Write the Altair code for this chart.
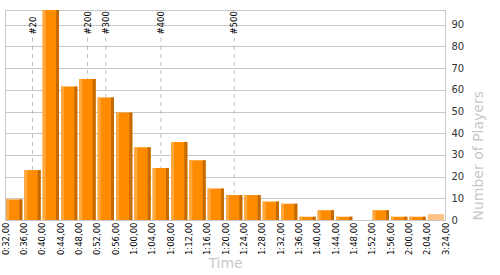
import altair as alt
import pandas as pd

# ---- data ----
bin_labels = ["0:32,00", "0:36,00", "0:40,00", "0:44,00", "0:48,00", "0:52,00",
              "0:56,00", "1:00,00", "1:04,00", "1:08,00", "1:12,00", "1:16,00",
              "1:20,00", "1:24,00", "1:28,00", "1:32,00", "1:36,00", "1:40,00",
              "1:44,00", "1:48,00", "1:52,00", "1:56,00", "2:00,00", "2:04,00",
              "3:24,00"]
players = [9.5, 23, 98, 61.5, 65, 56.5, 49.5, 33.5, 24, 36, 27.5, 14.5,
           11.5, 11.5, 8.5, 7.5, 1.5, 4.5, 1.5, 0, 4.5, 1.5, 1.5, 2.7]
kinds = ["full"] * 23 + ["partial"]

rank_labels = ["#20", "#200", "#300", "#400", "#500"]
rank_pos = [1.5, 4.5, 5.5, 8.5, 12.5]

df = pd.DataFrame({
    "start": list(range(len(players))),
    "end": [i + 1 for i in range(len(players))],
    "players": players,
    "kind": kinds,
})
ranks = pd.DataFrame({"pos": rank_pos, "rank": rank_labels})

FONT = "DejaVu Sans"
GRID = "#c8c8c8"

label_array = "[" + ",".join("'" + s + "'" for s in bin_labels) + "]"

xscale = alt.Scale(domain=[0, len(players)], nice=False, zero=False)
yscale = alt.Scale(domain=[0, 96.8], nice=False, clamp=True)

xaxis = alt.Axis(
    values=list(range(len(bin_labels))),
    labelExpr=label_array + "[datum.value]",
    labelAngle=270, labelFont=FONT, labelFontSize=8.5, labelColor="#000",
    labelPadding=2, labelOverlap=False, ticks=False, domain=False, grid=False,
    title="Time", titleFont=FONT, titleFontSize=14, titleFontWeight="normal",
    titleColor=GRID, titleY=43, titleBaseline="middle",
)
yaxis = alt.Axis(
    orient="right", values=list(range(0, 100, 10)), grid=True,
    gridColor=GRID, gridWidth=1, ticks=False, domain=False,
    labelFont=FONT, labelFontSize=10, labelColor="#333", labelPadding=6,
    title="Number of Players", titleFont=FONT, titleFontSize=14,
    titleFontWeight="normal", titleColor=GRID, titleAngle=270,
    titleX=33, titleY=210, titleAlign="left", titleBaseline="middle",
)

base = alt.Chart(df)
full = base.transform_filter(alt.datum.kind == "full")

main = base.mark_rect(xOffset=1, x2Offset=-1).encode(
    x=alt.X("start:Q", scale=xscale, axis=xaxis),
    x2="end:Q",
    y=alt.Y("players:Q", scale=yscale, axis=yaxis),
    y2=alt.Y2Datum(0),
    color=alt.Color("kind:N", scale=alt.Scale(domain=["full", "partial"],
                                              range=["#ff8c00", "#ffc285"]),
                    legend=None),
)
light = full.mark_rect(xOffset=1, x2Offset=4, color="#ffa83f").encode(
    x=alt.X("start:Q", scale=xscale, axis=xaxis),
    x2="start:Q",
    y=alt.Y("players:Q", scale=yscale, axis=yaxis),
    y2=alt.Y2Datum(0),
)
dark = full.mark_rect(xOffset=-4, x2Offset=-1, color="#c46a00").encode(
    x=alt.X("end:Q", scale=xscale, axis=xaxis),
    x2="end:Q",
    y=alt.Y("players:Q", scale=yscale, axis=yaxis),
    y2=alt.Y2Datum(0),
)

rules = alt.Chart(ranks).mark_rule(strokeDash=[4, 4], color="#c0c0c0").encode(
    x=alt.X("pos:Q", scale=xscale, axis=xaxis),
    y=alt.YDatum(84, scale=yscale, axis=yaxis),
    y2=alt.Y2Datum(0),
)
rank_text = alt.Chart(ranks).mark_text(
    angle=270, align="left", baseline="middle", font=FONT, fontSize=8.5,
    color="#000",
).encode(
    x=alt.X("pos:Q", scale=xscale, axis=xaxis),
    y=alt.YDatum(85.5, scale=yscale, axis=yaxis),
    text="rank:N",
)

chart = alt.layer(rules, rank_text, main, light, dark).properties(
    width=440, height=210,
    autosize=alt.AutoSizeParams(type="none"),
    padding={"left": 5, "top": 10, "right": 55, "bottom": 55},
    background="white",
).configure_view(stroke=GRID, strokeWidth=1)

chart.save("out.html", embed_options={"renderer": "svg", "actions": False})
